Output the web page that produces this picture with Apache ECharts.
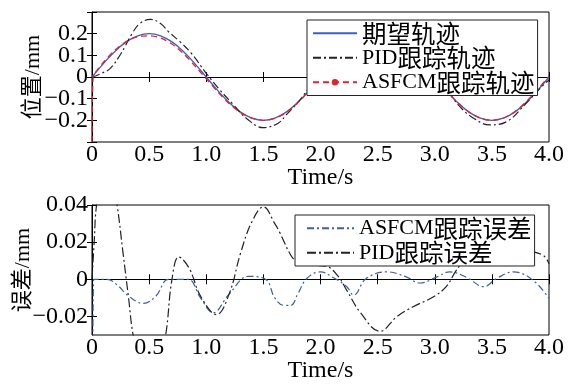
<!DOCTYPE html>
<html>
<head>
<meta charset="utf-8">
<script src="https://cdn.jsdelivr.net/npm/echarts@6/dist/echarts.min.js"></script>
<style>
  html, body { margin: 0; padding: 0; background: #fff; }
  #chart { width: 572px; height: 388px; }
</style>
</head>
<body>
<div id="chart"></div>
<script>
// top plot: trajectories (mm) vs time (s)
const desiredT = [0, 0.1, 0.2, 0.3, 0.4, 0.5, 0.6, 0.7, 0.8, 0.9, 1.0, 1.1, 1.2, 1.3, 1.4, 1.5, 1.6, 1.7, 1.8, 1.9, 2.0,
  2.1, 2.2, 2.3, 2.4, 2.5, 2.6, 2.7, 2.8, 2.9, 3.0, 3.1, 3.2, 3.3, 3.4, 3.5, 3.6, 3.7, 3.8, 3.9, 4.0]
const desiredV = [0, 0.062, 0.118, 0.162, 0.190, 0.200, 0.190, 0.162, 0.118, 0.062, 0, -0.062, -0.118, -0.162, -0.190, -0.200, -0.190, -0.162, -0.118, -0.062, 0,
  0.062, 0.118, 0.162, 0.190, 0.200, 0.190, 0.162, 0.118, 0.062, 0, -0.062, -0.118, -0.162, -0.190, -0.200, -0.190, -0.162, -0.118, -0.062, 0]

const pidT = [0, 0.07, 0.16, 0.25, 0.29, 0.35, 0.42, 0.51, 0.6, 0.67, 0.77, 0.87, 1.0, 1.12, 1.24, 1.35, 1.5, 1.63, 1.7, 1.82, 1.92,
  2.1, 2.3, 2.5, 2.7, 2.9, 3.07, 3.22, 3.34, 3.48, 3.63, 3.8, 3.95, 4.0]
const pidV = [0, 0.014, 0.04, 0.105, 0.142, 0.2, 0.247, 0.266, 0.247, 0.209, 0.163, 0.109, 0.017, -0.06, -0.129, -0.19, -0.234, -0.213, -0.175, -0.106, -0.037,
  0.06, 0.16, 0.225, 0.17, 0.06, -0.037, -0.137, -0.19, -0.221, -0.206, -0.121, -0.037, -0.014]

const asfcmT = [0, 0.01, 0.05, 0.1, 0.2, 0.3, 0.4, 0.5, 0.6, 0.7, 0.8, 0.9, 1.0, 1.1, 1.2, 1.3, 1.4, 1.5, 1.6, 1.7, 1.8, 1.9, 2.0,
  2.1, 2.2, 2.3, 2.4, 2.5, 2.6, 2.7, 2.8, 2.9, 3.0, 3.1, 3.2, 3.3, 3.4, 3.5, 3.6, 3.7, 3.8, 3.9, 4.0]
const asfcmV = [-0.3, 0.0, 0.035, 0.068, 0.124, 0.164, 0.186, 0.190, 0.180, 0.152, 0.108, 0.052, -0.008, -0.068, -0.122, -0.164, -0.190, -0.200, -0.191, -0.164, -0.120, -0.064, -0.004,
  0.058, 0.115, 0.160, 0.187, 0.196, 0.188, 0.160, 0.114, 0.058, -0.002, -0.062, -0.118, -0.162, -0.190, -0.200, -0.190, -0.160, -0.114, -0.058, 0.004]

// bottom plot: tracking errors (mm)
const asfErrT = [0, 0.015, 0.13, 0.22, 0.32, 0.45, 0.56, 0.67, 0.84, 0.95, 1.06, 1.2, 1.37, 1.52, 1.6, 1.68, 1.74, 1.8, 1.88, 2.0,
  2.11, 2.23, 2.29, 2.4, 2.58, 2.75, 2.87, 3.02, 3.13, 3.28, 3.43, 3.54, 3.69, 3.86, 4.0]
const asfErrV = [-0.3, 0, 0, -0.003, -0.009, -0.013, -0.009, 0, 0, -0.01, -0.018, -0.008, 0.0016, 0.0, -0.01, -0.014, -0.014, -0.008, 0.0004, 0.004,
  0.001, -0.004, -0.0085, 0.0004, 0.004, 0.0013, -0.002, 0.0013, 0.004, 0.001, -0.004, 0.0004, 0.004, -0.0005, -0.0103]

const pidErrT = [0, 0.02, 0.04, 0.1, 0.16, 0.22, 0.27, 0.32, 0.36, 0.45, 0.55, 0.645, 0.7, 0.76, 0.85, 0.95, 1.09, 1.2, 1.3, 1.4, 1.5, 1.6, 1.645, 1.73, 1.78, 1.85, 1.95,
  2.05, 2.15, 2.23, 2.35, 2.52, 2.67, 2.81, 2.99, 3.1, 3.18, 3.24, 3.4, 3.6, 3.8, 3.95, 4.0]
const pidErrV = [0, 0.021, 0.04, 0.058, 0.062, 0.04, 0.015, -0.01, -0.03, -0.055, -0.058, -0.03, 0, 0.012, 0.006, -0.009, -0.019, -0.008, 0.014, 0.031, 0.039, 0.03, 0.025, 0.014, 0.01, 0.008, 0.0075,
  0.007, 0.002, -0.006, -0.018, -0.028, -0.02, -0.0148, -0.0094, -0.004, 0.004, 0.009, 0.02, 0.022, 0.016, 0.0128, 0.0084]

const topLegend = ['期望轨迹', 'PID跟踪轨迹', 'ASFCM跟踪轨迹']
const bottomLegend = ['ASFCM跟踪误差', 'PID跟踪误差']
const dotLegend = 'ASFCM跟踪轨迹'
const errTicks = [-0.02, 0, 0.02, 0.04]

const FONT = "'Liberation Serif', 'Noto Sans CJK SC', serif"
const pairs = (t, v) => t.map((x, i) => [x, v[i]])
const minus = (s) => s.replace('-', '\u2212')

const chart = echarts.init(document.getElementById('chart'))

const xBase = (gi) => ({
  type: 'value', gridIndex: gi, min: 0, max: 4, interval: 0.5,
  axisLine: { show: true, lineStyle: { color: '#000', width: 1 } },
  axisTick: { show: true, inside: true, length: 5, lineStyle: { color: '#000' } },
  axisLabel: { color: '#000', fontFamily: FONT, fontSize: 24, margin: 1,
    formatter: (v) => v === 0 ? '0' : v.toFixed(1) },
  splitLine: { show: false },
  name: 'Time/s', nameLocation: 'middle', nameGap: 24, nameMoveOverlap: false,
  nameTextStyle: { color: '#000', fontFamily: FONT, fontSize: 24 },
})
const xTop = (gi) => ({
  type: 'value', gridIndex: gi, min: 0, max: 4, interval: 0.5, position: 'top',
  axisLine: { show: false }, axisLabel: { show: false }, splitLine: { show: false },
  axisTick: { show: true, inside: true, length: 5, lineStyle: { color: '#000' } },
})

// legend entries: latin part in Times-like face, CJK part slightly larger
const legendItem = (name) => ({
  name,
  itemStyle: name === dotLegend ? undefined : { opacity: 0 },
})
const legendText = {
  color: '#000',
  rich: {
    l: { fontFamily: 'Liberation Serif', fontSize: 22, lineHeight: 21.5 },
    c: { fontFamily: 'Noto Sans CJK SC', fontSize: 24.5, lineHeight: 21.5 },
  },
}
const legendFmt = (name) => name.replace(/^([A-Za-z]*)(.*)$/, (m, a, b) => (a ? '{l|' + a + '}' : '') + '{c|' + b + '}')

chart.setOption({
  animation: false,
  backgroundColor: '#fff',
  grid: [
    { left: 92, top: 12, width: 457, height: 130, show: true, borderColor: '#000', borderWidth: 1, outerBoundsMode: 'none' },
    { left: 92, top: 205, width: 457, height: 130, show: true, borderColor: '#000', borderWidth: 1, outerBoundsMode: 'none' },
  ],
  xAxis: [xBase(0), xBase(1), xTop(0), xTop(1)],
  yAxis: [
    {
      type: 'value', gridIndex: 0, min: -0.3, max: 0.3, interval: 0.1,
      axisLine: { show: true, lineStyle: { color: '#000' } },
      axisTick: { show: true, inside: true, length: 5, lineStyle: { color: '#000' } },
      axisLabel: { color: '#000', fontFamily: FONT, fontSize: 24, margin: 4,
        formatter: (v) => Math.abs(v) > 0.25 ? '' : (Math.abs(v) < 1e-9 ? '0' : minus(v.toFixed(1))) },
      splitLine: { show: false },
      name: '位置/mm', nameLocation: 'middle', nameGap: 48, nameRotate: 90, nameMoveOverlap: false,
      nameTextStyle: { color: '#000', fontFamily: FONT, fontSize: 22 },
    },
    {
      type: 'value', gridIndex: 1, min: -0.03, max: 0.04,
      axisLine: { show: true, lineStyle: { color: '#000' } },
      axisTick: { show: true, inside: true, length: 5, customValues: errTicks, lineStyle: { color: '#000' } },
      axisLabel: { color: '#000', fontFamily: FONT, fontSize: 24, margin: 4, customValues: errTicks,
        formatter: (v) => Math.abs(v) < 1e-9 ? '0' : minus(v.toFixed(2)) },
      splitLine: { show: false },
      name: '误差/mm', nameLocation: 'middle', nameGap: 58, nameRotate: 90, nameMoveOverlap: false,
      nameTextStyle: { color: '#000', fontFamily: FONT, fontSize: 22 },
    },
    {
      type: 'value', gridIndex: 0, min: -0.3, max: 0.3, interval: 0.1, position: 'right',
      axisLine: { show: false }, axisLabel: { show: false }, splitLine: { show: false },
      axisTick: { show: true, inside: true, length: 5, lineStyle: { color: '#000' } },
    },
    {
      type: 'value', gridIndex: 1, min: -0.03, max: 0.04, position: 'right',
      axisLine: { show: false }, axisLabel: { show: false }, splitLine: { show: false },
      axisTick: { show: true, inside: true, length: 5, customValues: errTicks, lineStyle: { color: '#000' } },
    },
  ],
  legend: [
    {
      data: topLegend.map(legendItem), orient: 'vertical', left: 307, top: 20,
      itemWidth: 44, itemHeight: 8, itemGap: 0, padding: [1, 3, 1, 5],
      borderColor: '#222', borderWidth: 1, backgroundColor: '#fff',
      formatter: legendFmt, textStyle: legendText,
    },
    {
      data: bottomLegend.map(legendItem), orient: 'vertical', left: 295, top: 215,
      itemWidth: 47, itemHeight: 8, itemGap: 0, padding: [1, 3, 1, 11],
      borderColor: '#222', borderWidth: 1, backgroundColor: '#fff',
      formatter: legendFmt, textStyle: legendText,
    },
  ],
  series: [
    {
      name: '期望轨迹', type: 'line', xAxisIndex: 0, yAxisIndex: 0, data: pairs(desiredT, desiredV),
      smooth: 0.4, symbol: 'none', color: '#3d5fbf', lineStyle: { color: '#3d5fbf', width: 1.3 },
    },
    {
      name: 'PID跟踪轨迹', type: 'line', xAxisIndex: 0, yAxisIndex: 0, data: pairs(pidT, pidV),
      smooth: 0.4, symbol: 'none', color: '#222', lineStyle: { color: '#222', width: 1.2, type: [8, 3, 2, 3] },
    },
    {
      name: 'ASFCM跟踪轨迹', type: 'line', xAxisIndex: 0, yAxisIndex: 0, data: pairs(asfcmT, asfcmV),
      smooth: 0.3, symbol: 'circle', symbolSize: 6, showSymbol: false, color: '#e3222e',
      lineStyle: { color: '#e3222e', width: 1.3, type: [6, 4] },
    },
    {
      name: 'ASFCM跟踪误差', type: 'line', xAxisIndex: 1, yAxisIndex: 1, data: pairs(asfErrT, asfErrV),
      smooth: 0.4, symbol: 'none', color: '#3a60ad', lineStyle: { color: '#3a60ad', width: 1.2, type: [7, 3, 2, 3] },
    },
    {
      name: 'PID跟踪误差', type: 'line', xAxisIndex: 1, yAxisIndex: 1, data: pairs(pidErrT, pidErrV),
      smooth: 0.4, symbol: 'none', color: '#222', lineStyle: { color: '#222', width: 1.2, type: [9, 3, 2, 3] },
    },
  ],
})
</script>
</body>
</html>
